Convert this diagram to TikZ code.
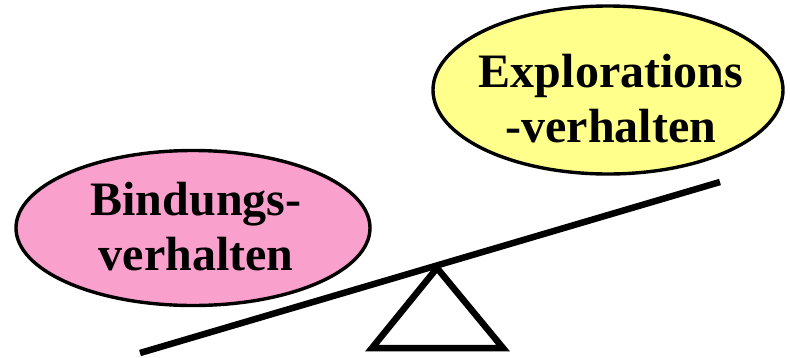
\documentclass[tikz,border=0pt]{standalone}
\usepackage{fontspec}
\setmainfont{Liberation Serif}
\usepackage{xcolor}
\usetikzlibrary{shapes.geometric,calc}

\definecolor{bindpink}{RGB}{250,160,205}
\definecolor{explyellow}{RGB}{255,255,140}

\begin{document}
\begin{tikzpicture}[x=1pt, y=-1pt,
    blob/.style={ellipse, draw=black, line width=3.4pt, inner sep=0pt},
    word/.style={font=\fontsize{48}{55}\selectfont\bfseries, align=center, inner sep=0pt}]
  \useasboundingbox (0,0) rectangle (790,357);
  % ellipses with their labels
  \node[blob, fill=bindpink, minimum width=354, minimum height=155] (bind) at (193,228) {};
  \node[word] (bindtxt) at ($(bind.center)+(3,-1)$) {Bindungs-\\verhalten};
  \node[blob, fill=explyellow, minimum width=350, minimum height=168] (expl) at (608,90) {};
  \node[word] (expltxt) at ($(expl.center)+(3,9)$) {Explorations\\-verhalten};
  % beam on the pivot
  \coordinate (beamL) at (140,353);
  \coordinate (beamR) at (720,182);
  \draw[line width=6.5pt] (beamL) -- (beamR);
  \coordinate (apex) at (437,268);
  \coordinate (baseL) at (372,348);
  \coordinate (baseR) at (503,348);
  \draw[line width=6.5pt, line join=miter] (apex) -- (baseR) -- (baseL) -- cycle;
\end{tikzpicture}
\end{document}
